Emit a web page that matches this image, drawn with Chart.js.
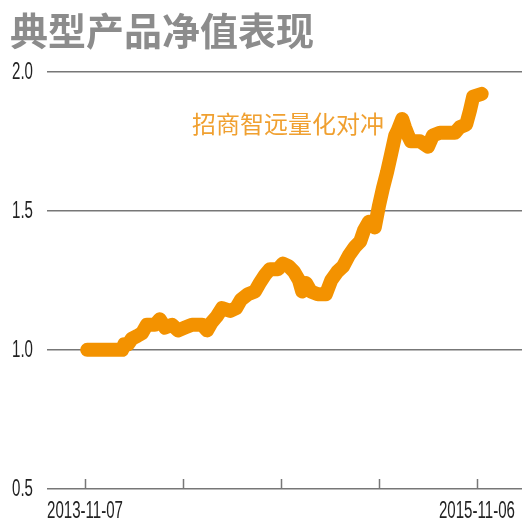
<!DOCTYPE html>
<html>
<head>
<meta charset="utf-8">
<script src="https://cdn.jsdelivr.net/npm/chart.js@4.4.0/dist/chart.umd.min.js"></script>
<style>
  html, body { margin: 0; padding: 0; background: #fff; }
  #wrap { width: 530px; height: 519px; }
</style>
</head>
<body>
<div id="wrap"><canvas id="navChart"></canvas></div>
<script>
// 净值数据
const startDate = '2013-11-07';
const endDate = '2015-11-06';
const seriesName = '招商智远量化对冲';

const navDates = [
  '2013-11-11', '2014-01-15', '2014-01-19', '2014-01-26', '2014-02-02', '2014-02-12',
  '2014-02-21', '2014-03-02', '2014-03-17', '2014-03-26', '2014-04-05', '2014-04-18',
  '2014-04-29', '2014-05-12', '2014-05-25', '2014-06-13', '2014-06-22', '2014-07-01',
  '2014-07-10', '2014-07-20', '2014-08-04', '2014-08-15', '2014-08-24', '2014-09-06',
  '2014-09-19', '2014-09-28', '2014-10-08', '2014-10-17', '2014-11-01', '2014-11-10',
  '2014-11-21', '2014-12-01', '2014-12-10', '2014-12-16', '2014-12-23', '2015-01-01',
  '2015-01-14', '2015-01-29', '2015-02-08', '2015-02-19', '2015-03-02', '2015-03-13',
  '2015-03-24', '2015-04-03', '2015-04-10', '2015-04-19', '2015-04-30', '2015-05-08',
  '2015-05-15', '2015-05-23', '2015-05-30', '2015-06-07', '2015-06-12', '2015-06-20',
  '2015-06-25', '2015-07-01', '2015-07-06', '2015-07-23', '2015-08-07', '2015-08-16',
  '2015-08-29', '2015-09-26', '2015-10-05', '2015-10-17', '2015-10-24', '2015-10-30',
  '2015-11-15'
];
const navValues = [
  1.00, 1.00, 1.02, 1.02, 1.04, 1.05,
  1.06, 1.09, 1.09, 1.11, 1.08, 1.09,
  1.07, 1.08, 1.09, 1.09, 1.07, 1.10,
  1.12, 1.15, 1.14, 1.15, 1.18, 1.20,
  1.21, 1.24, 1.27, 1.29, 1.29, 1.31,
  1.30, 1.28, 1.25, 1.21, 1.24, 1.21,
  1.20, 1.20, 1.25, 1.28, 1.30, 1.34,
  1.37, 1.39, 1.43, 1.46, 1.44, 1.52,
  1.58, 1.64, 1.70, 1.77, 1.79, 1.83,
  1.80, 1.77, 1.75, 1.75, 1.73, 1.77,
  1.78, 1.78, 1.80, 1.81, 1.86, 1.91,
  1.92
];
const yTicks = [0.5, 1.0, 1.5, 2.0];
const xTickCount = 5;

const DAY = 86400000;
function dayOf(d) {
  return (Date.parse(d) - Date.parse(startDate)) / DAY;
}
const spanDays = dayOf(endDate);
const points = navDates.map((d, i) => ({ x: dayOf(d), y: navValues[i] }));

const orange = '#f39200';
const labelFont = "23px 'Liberation Sans', Arial, sans-serif";
const squeeze = 0.655; // 原图刻度字体是窄体
const cjk = "'Noto Sans CJK SC', sans-serif";

function narrowText(c, text, x, y, align) {
  const w = c.measureText(text).width * squeeze;
  let left = x;
  if (align === 'center') left = x - w / 2;
  else if (align === 'right') left = x - w;
  c.save();
  c.translate(left, y);
  c.scale(squeeze, 1);
  c.textAlign = 'left';
  c.fillText(text, 0, 0);
  c.restore();
}

// 刻度文字、x 轴向上短刻度线、系列名称
const extrasPlugin = {
  id: 'extras',
  afterDraw(chart) {
    const c = chart.ctx;
    const xs = chart.scales.x;
    const ys = chart.scales.y;
    const area = chart.chartArea;
    c.save();
    c.strokeStyle = '#777';
    c.lineWidth = 1.5;
    xs.ticks.forEach(t => {
      const px = Math.round(xs.getPixelForValue(t.value)) + 0.5;
      c.beginPath();
      c.moveTo(px, area.bottom);
      c.lineTo(px, area.bottom - 10);
      c.stroke();
    });

    c.fillStyle = '#222';
    c.font = labelFont;
    c.textBaseline = 'middle';
    yTicks.forEach(v => {
      narrowText(c, v.toFixed(1), 12, ys.getPixelForValue(v) + 1, 'left');
    });
    c.textBaseline = 'top';
    narrowText(c, startDate, xs.getPixelForValue(0), area.bottom + 11, 'center');
    narrowText(c, endDate, xs.getPixelForValue(spanDays), area.bottom + 11, 'center');

    c.fillStyle = '#f0a030';
    c.font = '24px ' + cjk;
    c.textAlign = 'left';
    c.textBaseline = 'alphabetic';
    c.fillText(seriesName, xs.getPixelForValue(dayOf('2014-05-25')), ys.getPixelForValue(1.78));
    c.restore();
  }
};

const ctx = document.getElementById('navChart').getContext('2d');
const navChart = new Chart(ctx, {
  type: 'line',
  data: {
    datasets: [{
      label: seriesName,
      data: points,
      borderColor: orange,
      backgroundColor: orange,
      borderWidth: 14,
      borderJoinStyle: 'round',
      borderCapStyle: 'round',
      pointRadius: 0,
      tension: 0
    }]
  },
  options: {
    responsive: true,
    maintainAspectRatio: false,
    animation: false,
    layout: { padding: { left: 10, right: 8, top: 0, bottom: 0 } },
    plugins: {
      legend: { display: false },
      tooltip: { enabled: false },
      title: {
        display: true,
        text: '典型产品净值表现',
        align: 'start',
        color: '#8c8c8c',
        font: { family: cjk, size: 38, weight: 'bold' },
        padding: { top: 8, bottom: 18 }
      }
    },
    scales: {
      x: {
        type: 'linear',
        min: -spanDays * 0.097,
        max: spanDays * 1.115,
        afterBuildTicks(scale) {
          const ticks = [];
          for (let i = 0; i < xTickCount; i++) {
            ticks.push({ value: spanDays * i / (xTickCount - 1) });
          }
          scale.ticks = ticks;
        },
        afterFit(scale) { scale.height = 30; },
        grid: { display: false },
        border: { display: false },
        ticks: { display: false }
      },
      y: {
        min: 0.5,
        max: 2.0,
        z: 1,
        afterBuildTicks(scale) {
          scale.ticks = yTicks.map(v => ({ value: v }));
        },
        afterFit(scale) { scale.width = 37; },
        grid: { color: '#777', lineWidth: 1.5, drawTicks: false },
        border: { display: false },
        ticks: { display: false }
      }
    }
  },
  plugins: [extrasPlugin]
});
</script>
</body>
</html>
